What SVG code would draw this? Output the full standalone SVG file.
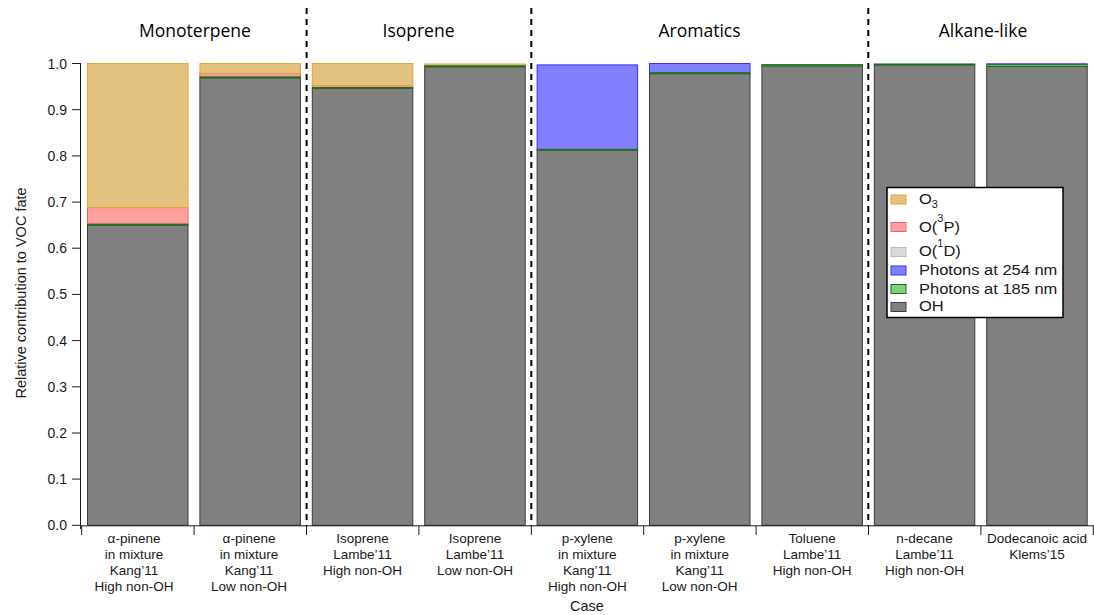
<svg xmlns="http://www.w3.org/2000/svg" width="1094" height="615" viewBox="0 0 1094 615">
<style>
text{font-family:"Liberation Sans",Arial,sans-serif;fill:#1a1a1a}
.title{font-family:"Open Sans","Liberation Sans",sans-serif;font-size:17.5px;fill:#000;text-anchor:middle}
.tick{font-size:14px;text-anchor:end}
.xl{font-size:13.5px;text-anchor:middle}
.lg{font-size:15px}
.ax{stroke:#1a1a1a;stroke-width:1;fill:none}
.dash{stroke:#000;stroke-width:2;stroke-dasharray:6 5;fill:none}
.oh{fill:#808080;stroke:#3c3c3c;stroke-width:1}
.p185{fill:#80d080;stroke:#1e6e1e;stroke-width:1}
.p254{fill:#7f7fff;stroke:#3333ff;stroke-width:1}
.o1d{fill:#d9d9d9;stroke:#bdbdbd;stroke-width:1}
.o3p{fill:#ffa0a0;stroke:#f06262;stroke-width:1}
.o3{fill:#e3c27f;stroke:#e6a43c;stroke-width:1}
</style>
<rect x="0" y="0" width="1094" height="615" fill="#fff"/>

<g id="titles">
<text class="title" x="195" y="37">Monoterpene</text>
<text class="title" x="418.5" y="37">Isoprene</text>
<text class="title" x="699.5" y="37">Aromatics</text>
<text class="title" x="983" y="37">Alkane-like</text>
</g>

<g id="bar1">
<rect class="oh" x="87.5" y="225.13" width="100.5" height="300.17"/>
<rect class="o3p" x="87.5" y="207.58" width="100.5" height="16.62"/>
<rect class="o3" x="87.5" y="63.5" width="100.5" height="144.08"/>
<rect class="p185" x="87.5" y="224.2" width="100.5" height="0.92"/>
</g>
<g id="bar2">
<rect class="oh" x="199.9" y="77.82" width="100.5" height="447.48"/>
<rect class="o3p" x="199.9" y="73.66" width="100.5" height="3.23"/>
<rect class="o3" x="199.9" y="63.5" width="100.5" height="10.16"/>
<rect class="p185" x="199.9" y="76.9" width="100.5" height="0.92"/>
</g>
<g id="bar3">
<rect class="oh" x="312.3" y="88.44" width="100.5" height="436.86"/>
<rect class="o3p" x="312.3" y="85.67" width="100.5" height="1.85"/>
<rect class="o3" x="312.3" y="63.5" width="100.5" height="22.17"/>
<rect class="p185" x="312.3" y="87.52" width="100.5" height="0.92"/>
</g>
<g id="bar4">
<rect class="oh" x="424.7" y="66.73" width="100.5" height="458.57"/>
<rect class="o3" x="424.7" y="63.96" width="100.5" height="1.85"/>
<rect class="p185" x="424.7" y="65.81" width="100.5" height="0.92"/>
</g>
<g id="bar5">
<rect class="oh" x="537.1" y="150.32" width="100.5" height="374.98"/>
<rect class="p254" x="537.1" y="64.89" width="100.5" height="84.51"/>
<rect class="p185" x="537.1" y="149.4" width="100.5" height="0.92"/>
</g>
<g id="bar6">
<rect class="oh" x="649.5" y="73.66" width="100.5" height="451.64"/>
<rect class="p254" x="649.5" y="63.5" width="100.5" height="9.24"/>
<rect class="p185" x="649.5" y="72.74" width="100.5" height="0.92"/>
</g>
<g id="bar7">
<rect class="oh" x="761.9" y="65.81" width="100.5" height="459.49"/>
<rect class="p185" x="761.9" y="64.6" width="100.5" height="1.2"/>
</g>
<g id="bar8">
<rect class="oh" x="874.3" y="64.89" width="100.5" height="460.41"/>
<rect class="p185" x="874.3" y="63.96" width="100.5" height="0.92"/>
</g>
<g id="bar9">
<rect class="oh" x="986.7" y="66.5" width="100.5" height="458.8"/>
<rect class="p254" x="986.7" y="63.8" width="100.5" height="0.4" stroke-width="0.5"/>
<rect class="p185" x="986.7" y="64.7" width="100.5" height="1.8"/>
</g>

<g id="separators">
<line class="dash" x1="306.6" y1="8" x2="306.6" y2="526"/>
<line class="dash" x1="531.3" y1="8" x2="531.3" y2="526"/>
<line class="dash" x1="868.3" y1="8" x2="868.3" y2="526"/>
</g>

<g id="y-axis">
<path class="ax" d="M80.5 63 V529 M72 63.5 H80.5 M72 109.7 H80.5 M72 155.9 H80.5 M72 202.1 H80.5 M72 248.2 H80.5 M72 294.4 H80.5 M72 340.6 H80.5 M72 386.8 H80.5 M72 433 H80.5 M72 479.1 H80.5 M72 525.3 H80.5"/>
<text class="tick" x="67" y="68.5">1.0</text>
<text class="tick" x="67" y="114.7">0.9</text>
<text class="tick" x="67" y="160.9">0.8</text>
<text class="tick" x="67" y="207.1">0.7</text>
<text class="tick" x="67" y="253.2">0.6</text>
<text class="tick" x="67" y="299.4">0.5</text>
<text class="tick" x="67" y="345.6">0.4</text>
<text class="tick" x="67" y="391.8">0.3</text>
<text class="tick" x="67" y="438">0.2</text>
<text class="tick" x="67" y="484.1">0.1</text>
<text class="tick" x="67" y="530.3">0.0</text>
<text font-size="14.5" text-anchor="middle" transform="translate(25.5,293) rotate(-90)">Relative contribution to VOC fate</text>
</g>

<g id="x-axis">
<path class="ax" d="M80.5 525.8 H1094 M81.7 526 V535 M194.1 526 V535 M306.5 526 V535 M418.9 526 V535 M531.3 526 V535 M643.7 526 V535 M756.1 526 V535 M868.5 526 V535 M980.9 526 V535 M1093.3 526 V535"/>
<text class="xl" x="134"><tspan x="134" y="543">α-pinene</tspan><tspan x="134" y="559">in mixture</tspan><tspan x="134" y="575">Kang’11</tspan><tspan x="134" y="591">High non-OH</tspan></text>
<text class="xl" x="249"><tspan x="249" y="543">α-pinene</tspan><tspan x="249" y="559">in mixture</tspan><tspan x="249" y="575">Kang’11</tspan><tspan x="249" y="591">Low non-OH</tspan></text>
<text class="xl" x="362.5"><tspan x="362.5" y="543">Isoprene</tspan><tspan x="362.5" y="559">Lambe’11</tspan><tspan x="362.5" y="575">High non-OH</tspan></text>
<text class="xl" x="475"><tspan x="475" y="543">Isoprene</tspan><tspan x="475" y="559">Lambe’11</tspan><tspan x="475" y="575">Low non-OH</tspan></text>
<text class="xl" x="587.3"><tspan x="587.3" y="543">p-xylene</tspan><tspan x="587.3" y="559">in mixture</tspan><tspan x="587.3" y="575">Kang’11</tspan><tspan x="587.3" y="591">High non-OH</tspan></text>
<text class="xl" x="699.7"><tspan x="699.7" y="543">p-xylene</tspan><tspan x="699.7" y="559">in mixture</tspan><tspan x="699.7" y="575">Kang’11</tspan><tspan x="699.7" y="591">Low non-OH</tspan></text>
<text class="xl" x="812.1"><tspan x="812.1" y="543">Toluene</tspan><tspan x="812.1" y="559">Lambe’11</tspan><tspan x="812.1" y="575">High non-OH</tspan></text>
<text class="xl" x="924.5"><tspan x="924.5" y="543">n-decane</tspan><tspan x="924.5" y="559">Lambe’11</tspan><tspan x="924.5" y="575">High non-OH</tspan></text>
<text class="xl" x="1037"><tspan x="1037" y="543">Dodecanoic acid</tspan><tspan x="1037" y="559">Klems’15</tspan></text>
<text font-size="14.5" text-anchor="middle" x="587" y="611">Case</text>
</g>

<g id="legend">
<rect x="887" y="187.5" width="176" height="130" fill="#fff" stroke="#000" stroke-width="1.5"/>
<rect class="o3" x="891" y="195" width="15" height="9"/>
<rect class="o3p" x="891" y="222.5" width="15" height="9"/>
<rect class="o1d" x="891" y="247.5" width="15" height="9"/>
<rect class="p254" x="891" y="266" width="15" height="9"/>
<rect class="p185" x="891" y="284.5" width="15" height="9"/>
<rect class="oh" x="891" y="302.5" width="15" height="9"/>
<text class="lg" transform="translate(919,204) scale(1.1,1)">O<tspan font-size="10" dy="3.5">3</tspan></text>
<text class="lg" transform="translate(919,232) scale(1.1,1)">O(<tspan font-size="10" dy="-10">3</tspan><tspan dy="10">P)</tspan></text>
<text class="lg" transform="translate(919,256) scale(1.1,1)">O(<tspan font-size="10" dy="-9">1</tspan><tspan dy="9">D)</tspan></text>
<text class="lg" transform="translate(919,275) scale(1.1,1)">Photons at 254 nm</text>
<text class="lg" transform="translate(919,293.5) scale(1.1,1)">Photons at 185 nm</text>
<text class="lg" transform="translate(919,311) scale(1.1,1)">OH</text>
</g>
</svg>
